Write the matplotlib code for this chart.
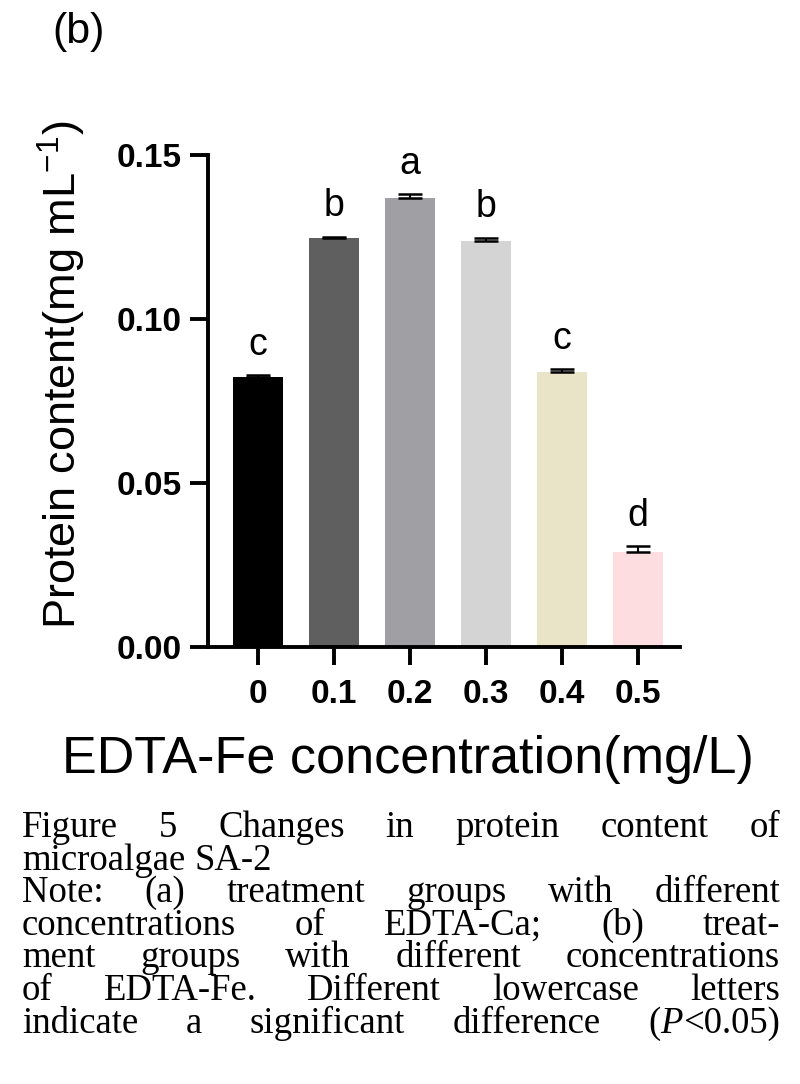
import numpy as np
import matplotlib
matplotlib.use("Agg")
import matplotlib.pyplot as plt

# data
conc = ['0', '0.1', '0.2', '0.3', '0.4', '0.5']
protein = [0.0823, 0.1247, 0.1369, 0.1238, 0.0838, 0.0290]
err = [0.0005, 0.0003, 0.0011, 0.0010, 0.0009, 0.0017]
letters = ['c', 'b', 'a', 'b', 'c', 'd']
colors = ['#000000', '#5f5f5f', '#a0a0a4', '#d4d4d4', '#e9e4c8', '#fddde0']

# text between $ signs is set in italic
caption = [
    ("Figure 5 Changes in protein content of", True),
    ("microalgae SA-2", False),
    ("Note: (a) treatment groups with different", True),
    ("concentrations of EDTA-Ca; (b) treat-", True),
    ("ment groups with different concentrations", True),
    ("of EDTA-Fe. Different lowercase letters", True),
    ("indicate a significant difference ($P$<0.05)", True),
]

plt.rcParams['font.family'] = ['Liberation Sans', 'DejaVu Sans']
plt.rcParams['mathtext.fontset'] = 'custom'
plt.rcParams['mathtext.sf'] = 'Liberation Sans'
plt.rcParams['mathtext.rm'] = 'Liberation Sans'

W, H = 800, 1084
fig = plt.figure(figsize=(W / 100, H / 100), dpi=100)
ax = fig.add_axes([208 / W, 1 - 647 / H, (680 - 208) / W, (647 - 155) / H])

x = np.arange(len(conc))
ax.bar(x, protein, width=0.66, color=colors, zorder=2)
ax.errorbar(x, protein, yerr=[np.zeros(len(err)), err], fmt='none',
            ecolor='black', elinewidth=1.5, capsize=8.5, capthick=1.8, zorder=3)
for xi, v, e, lab in zip(x, protein, err, letters):
    ax.annotate(lab, (xi, v + e), xytext=(0, 9), textcoords='offset points',
                ha='center', va='bottom', fontsize=27, annotation_clip=False)

ax.set_xlim(-0.658, 5.553)
ax.set_ylim(0, 0.15)
ax.set_yticks([0, 0.05, 0.10, 0.15])
ax.set_yticklabels(['0.00', '0.05', '0.10', '0.15'])
ax.set_xticks(x)
ax.set_xticklabels(conc)
for s in ['top', 'right']:
    ax.spines[s].set_visible(False)
for s in ['left', 'bottom']:
    ax.spines[s].set_linewidth(2.8)
ax.tick_params(axis='both', width=2.8, length=13, labelsize=24)
ax.tick_params(axis='y', pad=6)
ax.tick_params(axis='x', pad=10)
for t in ax.get_xticklabels() + ax.get_yticklabels():
    t.set_fontweight('bold')

ax.set_ylabel('Protein content(mg mL$^{\\mathsf{-1}}$)', fontsize=32.5)
ax.set_xlabel('EDTA-Fe concentration(mg/L)', fontsize=37.5)
ax.yaxis.set_label_coords(-0.309, 0.553)
ax.yaxis.label.set_va('center')
ax.xaxis.set_label_coords(0.424, -0.256)
ax.xaxis.label.set_va('baseline')

fig.text(52 / W, 1 - 43 / H, '(b)', fontsize=31, ha='left', va='baseline')

# justified caption, word by word
renderer = fig.canvas.get_renderer()
left, right = 22, 780
fs = 26.5

for i, (line, justify) in enumerate(caption):
    y = 1 - (837 + 32.6 * i) / H
    words = []
    for w in line.split(' '):
        parts = w.split('$')
        pieces = []
        for k, p in enumerate(parts):
            if p == '':
                continue
            t = fig.text(0, y, p, fontsize=fs, family='Liberation Serif',
                         style='italic' if k % 2 else 'normal',
                         ha='left', va='baseline')
            pieces.append((t, t.get_window_extent(renderer).width))
        words.append(pieces)
    widths = [sum(pw for _, pw in pieces) for pieces in words]
    if justify and len(words) > 1:
        gap = (right - left - sum(widths)) / (len(words) - 1)
    else:
        gap = fs * 100 / 72 * 0.25
    pos = left
    for pieces, w in zip(words, widths):
        p0 = pos
        for t, pw in pieces:
            t.set_x(p0 / W)
            p0 += pw
        pos += w + gap

fig.savefig('out.png', dpi=100)
